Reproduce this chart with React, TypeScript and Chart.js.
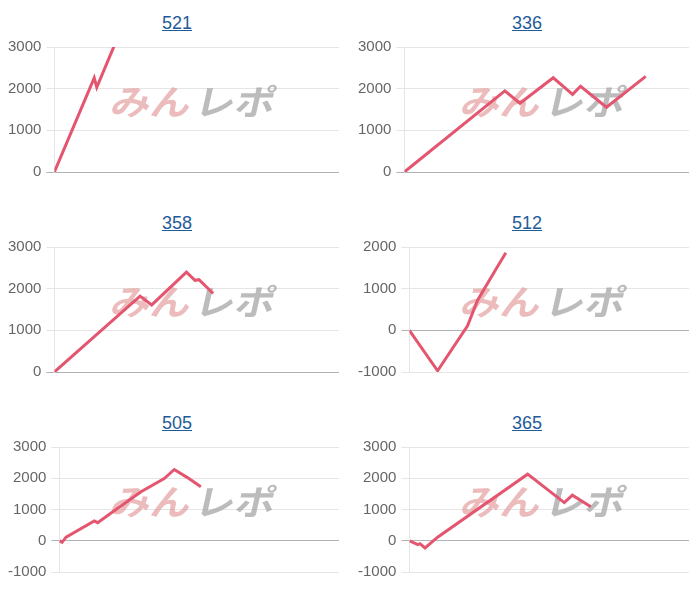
import React, { useEffect, useRef } from "react";
import { Chart, registerables } from "chart.js";

Chart.register(...registerables);

// Machine numbers (panel titles), left-to-right, top-to-bottom
const machineTitles = ["521", "336", "358", "512", "505", "365"];

// Game count (x) and cumulative medal difference (y) per machine
const games521 = [0, 1260, 1341, 1881];
const diff521 = [0, 2260, 2030, 3010];

const games336 = [0, 3177, 3654, 4707, 5319, 5571, 6390, 7632];
const diff336 = [0, 1948, 1650, 2262, 1862, 2058, 1555, 2294];

const games358 = [0, 2709, 3078, 4176, 4446, 4572, 5022];
const diff358 = [0, 1822, 1610, 2396, 2200, 2215, 1885];

const games512 = [0, 909, 1872, 2196, 2790, 3105];
const diff512 = [0, -970, 110, 725, 1470, 1860];

const games505 = [0, 86, 216, 1125, 1233, 1665, 2628, 3375, 3699, 4122, 4554];
const diff505 = [0, -50, 115, 635, 580, 890, 1570, 1990, 2280, 2020, 1730];

const games365 = [0, 270, 342, 504, 909, 3807, 4986, 5247, 5841];
const diff365 = [0, -125, -95, -230, 115, 2130, 1220, 1460, 1085];

// Axis ranges per machine
const yMins = [0, 0, 0, -1000, -1000, -1000];
const yMaxs = [3000, 3000, 3000, 2000, 3000, 3000];
const xMaxGames = 9000;

const gamesList = [games521, games336, games358, games512, games505, games365];
const diffList = [diff521, diff336, diff358, diff512, diff505, diff365];

const LINE_COLOR = "rgb(228,86,112)";
const FONT = "Arial, 'Liberation Sans', Helvetica, sans-serif";

const watermarkPlugin = {
  id: "watermark",
  beforeDatasetsDraw(chart: any) {
    const ctx = chart.ctx;
    ctx.save();
    ctx.translate(191, 69);
    ctx.transform(1.14, 0, -0.22, 1, 0, 0);
    ctx.font = "bold 35px 'Noto Sans CJK JP', sans-serif";
    ctx.textBaseline = "middle";
    ctx.textAlign = "right";
    ctx.fillStyle = "rgba(226,150,150,0.65)";
    ctx.fillText("みん", -2, 0);
    ctx.textAlign = "left";
    ctx.fillStyle = "rgba(160,160,160,0.7)";
    ctx.fillText("レポ", 2, 0);
    ctx.restore();
  },
};

function MiniChart(props: { idx: number }) {
  const ref = useRef<HTMLCanvasElement | null>(null);
  const i = props.idx;
  useEffect(() => {
    if (!ref.current) return;
    const g = gamesList[i];
    const d = diffList[i];
    const chart = new Chart(ref.current, {
      type: "line",
      data: {
        datasets: [
          {
            data: g.map((x, k) => ({ x, y: d[k] })),
            borderColor: LINE_COLOR,
            borderWidth: 3,
            pointRadius: 0,
            tension: 0,
            fill: false,
          },
        ],
      },
      options: {
        responsive: false,
        animation: false,
        layout: { padding: { top: 0, bottom: 0, right: 7, left: 0 } },
        plugins: {
          legend: { display: false },
          tooltip: { enabled: false },
        },
        scales: {
          x: { type: "linear", min: 0, max: xMaxGames, display: false },
          y: {
            min: yMins[i],
            max: yMaxs[i],
            ticks: {
              stepSize: 1000,
              color: "#666",
              padding: 5,
              font: { size: 15, family: FONT },
              callback: (v: any) => String(v),
            },
            grid: {
              color: (c: any) =>
                c.tick && c.tick.value === 0 ? "rgba(0,0,0,0.3)" : "rgba(0,0,0,0.1)",
            },
            border: { color: "rgba(0,0,0,0.1)" },
          },
        },
      },
      plugins: [watermarkPlugin],
    } as any);
    return () => chart.destroy();
  }, [i]);

  const col = i % 2;
  const row = Math.floor(i / 2);
  return (
    <div
      style={{
        position: "absolute",
        left: col * 350,
        top: row * 200,
        width: 338,
        height: 192,
      }}
    >
      <div
        style={{
          position: "absolute",
          top: 5,
          left: 0,
          width: 338,
          height: 20,
          lineHeight: "20px",
          textAlign: "center",
          fontFamily: FONT,
          fontSize: 18,
        }}
      >
        <a href="#" style={{ color: "#1f5b98", textDecoration: "underline" }}>
          {machineTitles[i]}
        </a>
      </div>
      <canvas
        ref={ref}
        width={343}
        height={153}
        style={{ position: "absolute", top: 25, left: -5, display: "block" }}
      />
    </div>
  );
}

export default function App() {
  return (
    <div style={{ position: "relative", width: 684, height: 592 }}>
      {machineTitles.map((_, i) => (
        <MiniChart key={i} idx={i} />
      ))}
    </div>
  );
}
